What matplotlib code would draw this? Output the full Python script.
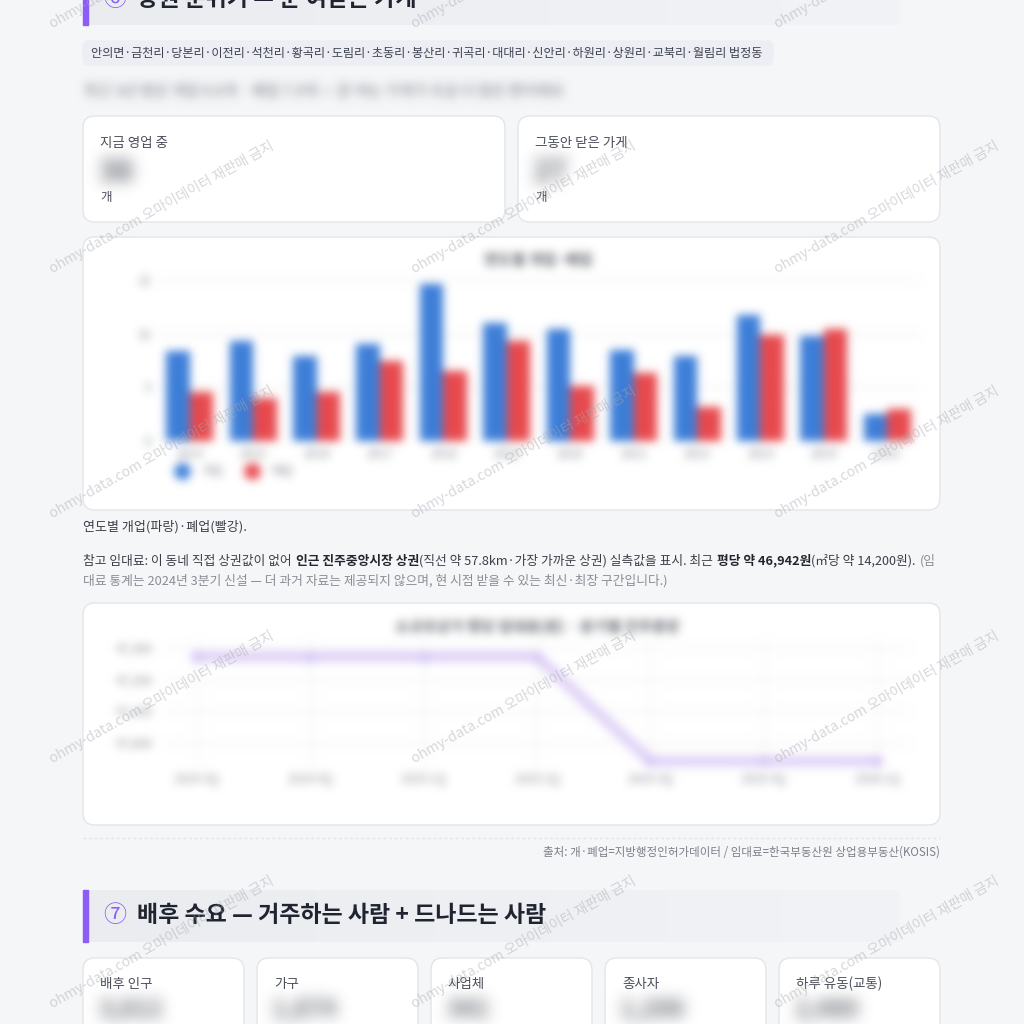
import numpy as np
import matplotlib
matplotlib.use('Agg')
import matplotlib.pyplot as plt
from matplotlib.patches import FancyBboxPatch, Rectangle
from matplotlib.lines import Line2D
from matplotlib.colors import LinearSegmentedColormap

plt.rcParams['font.family'] = ['Noto Sans CJK KR', 'DejaVu Sans']

# ---- data ----
years = ['2014', '2015', '2016', '2017', '2018', '2019',
         '2020', '2021', '2022', '2023', '2024', '2025']
opened = [8.4, 9.3, 7.9, 9.0, 14.6, 11.0, 10.4, 8.5, 7.9, 11.7, 9.8, 2.5]
closed = [4.6, 4.0, 4.6, 7.5, 6.5, 9.3, 5.1, 6.3, 3.2, 9.9, 10.4, 3.0]

quarters = ['2024 3Q', '2024 4Q', '2025 1Q', '2025 2Q', '2025 3Q', '2025 4Q', '2026 1Q']
rent = [47272, 47272, 47272, 47272, 46942, 46942, 46942]

areas = ['안의면', '금천리', '당본리', '이전리', '석천리', '황곡리', '도림리', '초동리',
         '봉산리', '귀곡리', '대대리', '신안리', '하원리', '상원리', '교북리', '월림리']
top_cards = ['지금 영업 중', '그동안 닫은 가게']
top_values = ['38', '27']
demand_cards = ['배후 인구', '가구', '사업체', '종사자', '하루 유동(교통)']
demand_values = ['3,812', '1,874', '342', '1,206', '2,480']

W = 1024
BG = '#f5f6f8'
PURPLE = '#8b5cf6'
DARK = '#1f2430'


def pt(px):
    # pixel size -> points at dpi 100
    return px * 0.72


def blur(sigma):
    # gaussian blur used as an agg filter (blurred parts of the page)
    r = int(3 * sigma)
    k = np.exp(-0.5 * (np.arange(-r, r + 1) / sigma) ** 2)
    k /= k.sum()

    def f(im, dpi):
        a = np.pad(im, [(r, r), (r, r), (0, 0)])
        arr = np.concatenate([a[..., :3] * a[..., 3:], a[..., 3:]], axis=2)
        for axis in (0, 1):
            out = np.zeros_like(arr)
            for i, w in enumerate(k):
                out += w * np.roll(arr, i - r, axis=axis)
            arr = out
        alpha = arr[..., 3:]
        rgb = arr[..., :3] / np.maximum(alpha, 1e-6)
        res = np.clip(np.concatenate([rgb, alpha], axis=2), 0, 1)
        return res, -r, -r
    return f


def rect(x0, y0, x1, y1):
    return [x0 / W, 1 - y1 / W, (x1 - x0) / W, (y1 - y0) / W]


fig = plt.figure(figsize=(10.24, 10.24), dpi=100)
fig.patch.set_facecolor(BG)

# page axes in pixel coordinates
bg = fig.add_axes([0, 0, 1, 1])
bg.set_xlim(0, W)
bg.set_ylim(W, 0)
bg.axis('off')
renderer = fig.canvas.get_renderer()


def card(x0, y0, x1, y1, fc='white', ec='#e3e5ea', r=12):
    p = FancyBboxPatch((x0 + r, y0 + r), x1 - x0 - 2 * r, y1 - y0 - 2 * r,
                       boxstyle=f'round,pad={r}', fc=fc, ec=ec, lw=1, zorder=1)
    bg.add_patch(p)


band_cmap = LinearSegmentedColormap.from_list('band', ['#eaecf0', '#f2f3f6'])


def section(y0, y1, num, title):
    bg.imshow(np.linspace(0, 1, 256)[None, :], extent=(83, 900, y1, y0),
              cmap=band_cmap, aspect='auto', zorder=1)
    bg.add_patch(Rectangle((83, y0), 5, y1 - y0, color=PURPLE, zorder=2))
    yc = (y0 + y1) / 2
    bg.text(103, yc, num, fontsize=pt(23), color=PURPLE, va='center', zorder=3)
    bg.text(137, yc, title, fontsize=pt(23), color=DARK, fontweight='bold',
            va='center', zorder=3)


def run(x, y, pieces, size):
    # pieces: (text, color, weight, gap after)
    for s, color, weight, gap in pieces:
        t = bg.text(x, y, s, fontsize=pt(size), color=color, fontweight=weight,
                    va='center', ha='left', zorder=3)
        x += t.get_window_extent(renderer).width + gap
    return x


# ---- section 6 ----
section(-27, 25, '⑥', '상권 분위기 — 문 여닫는 가게')

card(83, 41, 773, 65, fc='#eceef3', ec='#eceef3', r=6)
bg.text(91, 53, '·'.join(areas) + ' 법정동', fontsize=pt(12.15), color='#3d4250',
        va='center', zorder=3)

t = bg.text(84, 92, '최근 3년 평균 개업 9.6개 · 폐업 7.9개 — 문 여는 가게가 조금 더 많은 편이에요',
            fontsize=pt(15), color='#6e7178', va='center', zorder=3)
t.set_agg_filter(blur(5))

for i, (lab, val) in enumerate(zip(top_cards, top_values)):
    x0 = 83 + i * 435
    card(x0, 116, x0 + 422, 222)
    bg.text(x0 + 17, 143, lab, fontsize=pt(13.5), color='#4b4f5a', va='center', zorder=3)
    t = bg.text(x0 + 15, 172, val, fontsize=pt(30), color='#5f626a',
                fontweight='bold', va='center', zorder=3)
    t.set_agg_filter(blur(7.5))
    bg.text(x0 + 17, 198, '개', fontsize=pt(12.5), color='#4b4f5a', va='center', zorder=3)

# bar chart card
card(83, 237, 940, 510)
ax = fig.add_axes(rect(158, 280, 919, 441))
ax.patch.set_visible(False)
x = np.arange(len(years))
bw = 0.37
ax.bar(x - bw / 2, opened, bw, color='#3b7dd8', label='개업')
ax.bar(x + bw / 2, closed, bw, color='#e8484c', label='폐업')
ax.set_xlim(-0.5, len(years) - 0.5)
ax.set_ylim(0, 15)
ax.set_yticks([0, 5, 10, 15])
ax.set_xticks(x, years)
ax.grid(axis='y', color='#ececec', lw=1)
ax.set_axisbelow(True)
ax.tick_params(length=0, labelsize=pt(12), labelcolor='#85888f', pad=5)
for s in ax.spines.values():
    s.set_visible(False)
ax.set_title('연도별 개업·폐업', fontsize=pt(15), color='#5f626a',
             fontweight='bold', pad=11)
handles = [Line2D([], [], ls='', marker='o', ms=11, color='#3b7dd8'),
           Line2D([], [], ls='', marker='o', ms=11, color='#e8484c')]
ax.legend(handles, ['개업', '폐업'], loc='center left', frameon=False,
          bbox_to_anchor=(170 / W, 1 - 472 / W), bbox_transform=fig.transFigure,
          ncol=2, fontsize=pt(12), labelcolor='#85888f', handletextpad=0.6,
          columnspacing=1.4, borderpad=0, borderaxespad=0)
ax.set_agg_filter(blur(4.5))

bg.text(83, 527, '연도별 개업(파랑)·폐업(빨강).', fontsize=pt(13), color='#3a3e48',
        va='center', zorder=3)

norm, gray = '#3a3e48', '#8a8d94'
run(83, 561, [
    ('참고 임대료: 이 동네 직접 상권값이 없어', norm, 'normal', 4),
    ('인근 진주중앙시장 상권', '#23262e', 'bold', 0),
    ('(직선 약 57.8km·가장 가까운 상권) 실측값을 표시. 최근', norm, 'normal', 4),
    ('평당 약 46,942원', '#23262e', 'bold', 0),
    ('(㎡당 약 14,200원).', norm, 'normal', 4),
    ('(임', gray, 'normal', 0),
], 12.75)
bg.text(83, 581, '대료 통계는 2024년 3분기 신설 — 더 과거 자료는 제공되지 않으며, '
        '현 시점 받을 수 있는 최신·최장 구간입니다.)', fontsize=pt(12.8), color=gray,
        va='center', zorder=3)

# rent line chart card
card(83, 603, 940, 825)
lx = fig.add_axes(rect(165, 640, 910, 768))
lx.patch.set_visible(False)
lx.plot(range(len(quarters)), rent, color='#e0d3f8', lw=8, marker='o', ms=7,
        mfc='#d6c6f4', mec='#d6c6f4', clip_on=False, solid_joinstyle='round')
lx.set_xlim(-0.28, len(quarters) - 1 + 0.29)
lx.set_ylim(46920, 47325)
lx.set_yticks([47000, 47100, 47200, 47300])
lx.yaxis.set_major_formatter(matplotlib.ticker.StrMethodFormatter('{x:,.0f}'))
lx.set_xticks(range(len(quarters)), quarters)
lx.grid(color='#efefef', lw=1)
lx.set_axisbelow(True)
lx.tick_params(axis='y', length=0, labelsize=pt(12), labelcolor='#85888f', pad=9)
lx.tick_params(axis='x', length=0, labelsize=pt(12), labelcolor='#85888f', pad=3)
for s in lx.spines.values():
    s.set_visible(False)
lx.set_title('소규모상가 평당 임대료(원) · 분기별 진주중앙', fontsize=pt(15),
             color='#5f626a', fontweight='bold', pad=6)
lx.set_agg_filter(blur(4.5))

bg.plot([83, 940], [838, 838], color='#e1e3e8', lw=1, ls=(0, (2, 2)), zorder=2)
bg.text(940, 852, '출처: 개·폐업=지방행정인허가데이터 / 임대료=한국부동산원 상업용부동산(KOSIS)',
        fontsize=pt(11.5), color='#7b7f88', ha='right', va='center', zorder=3)

# ---- section 7 ----
section(890, 942, '⑦', '배후 수요 — 거주하는 사람 + 드나드는 사람')

for i, (lab, val) in enumerate(zip(demand_cards, demand_values)):
    x0 = 83 + i * 174
    card(x0, 958, x0 + 161, 1060)
    bg.text(x0 + 17, 984, lab, fontsize=pt(13.5), color='#4b4f5a', va='center', zorder=3)
    t = bg.text(x0 + 15, 1010, val, fontsize=pt(24), color='#5f626a',
                fontweight='bold', va='center', zorder=3)
    t.set_agg_filter(blur(7.5))

bg.set_xlim(0, W)
bg.set_ylim(W, 0)

# watermark grid
for yy in [28, 273, 518, 763, 1008]:
    for xx in [53, 415, 778]:
        fig.text(xx / W, 1 - yy / W, 'ohmy-data.com 오마이데이터 재판매 금지',
                 fontsize=pt(14), color='#a4a8ae', alpha=0.45, rotation=29.3,
                 rotation_mode='anchor', ha='left', va='baseline', zorder=10)

fig.savefig('out.png', dpi=100, facecolor=BG)
